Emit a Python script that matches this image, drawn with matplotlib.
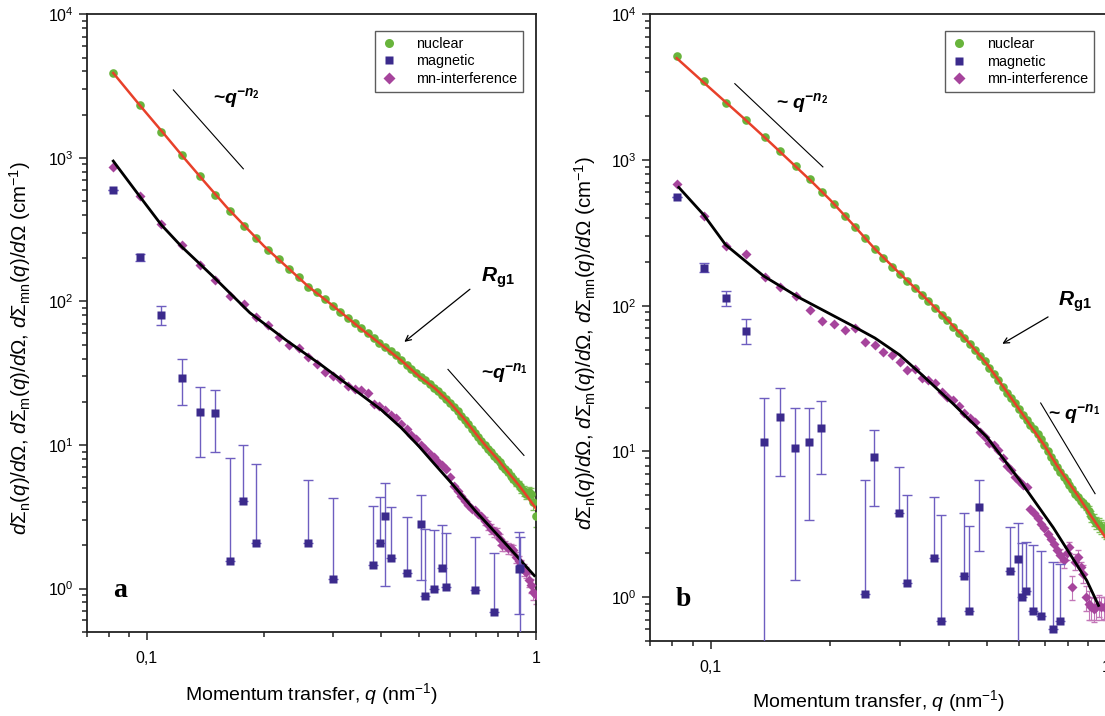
import matplotlib
matplotlib.use('Agg')
import matplotlib.pyplot as plt
from matplotlib.lines import Line2D
from matplotlib.ticker import FixedLocator, FixedFormatter, NullFormatter

plt.rcParams['font.family'] = ['Liberation Sans', 'DejaVu Sans']
plt.rcParams['mathtext.fontset'] = 'custom'
plt.rcParams['mathtext.rm'] = 'Liberation Sans'
plt.rcParams['mathtext.it'] = 'Liberation Sans:italic'
plt.rcParams['mathtext.bf'] = 'Liberation Sans:bold'
plt.rcParams['mathtext.bfit'] = 'Liberation Sans:italic:bold'

# momentum transfer grid (nm^-1), same for both samples
q = [0.082, 0.096, 0.109, 0.123, 0.137, 0.150, 0.164, 0.178, 0.191, 0.205,
     0.219, 0.232, 0.246, 0.260, 0.273, 0.287, 0.301, 0.314, 0.328, 0.342,
     0.355, 0.369, 0.383, 0.396, 0.410, 0.424, 0.437, 0.451, 0.465, 0.478,
     0.492, 0.506, 0.519, 0.533, 0.547, 0.560, 0.574, 0.588, 0.601, 0.615,
     0.629, 0.642, 0.656, 0.670, 0.683, 0.697, 0.711, 0.724, 0.738, 0.752,
     0.765, 0.779, 0.793, 0.806, 0.820, 0.834, 0.847, 0.861, 0.875, 0.888,
     0.902, 0.916, 0.929, 0.943, 0.957, 0.970, 0.984, 0.998]

# ---- sample a ----
nuc_a = [3930, 2330, 1520, 1040, 746, 553, 426, 337, 276, 229,
         196, 167, 148, 126, 116, 104, 92.9, 84.5, 76.4, 70.5,
         65.0, 60.0, 55.3, 51.1, 48.2, 44.8, 42.2, 38.9, 36.3, 33.9,
         31.6, 29.9, 28.2, 26.6, 25.1, 23.7, 22.4, 20.9, 19.7, 18.4,
         17.2, 16.0, 15.0, 14.0, 13.0, 12.2, 11.4, 10.7, 10.0, 9.44,
         8.91, 8.41, 7.94, 7.59, 7.16, 6.76, 6.46, 6.10, 5.82, 5.56,
         5.25, 5.01, 4.79, 4.57, 4.68, 4.57, 3.98, 3.20]
nuc_a_err_tail = [0.3, 0.3, 0.3, 0.35, 0.35, 0.35, 0.4, 0.4, 0.4, 0.45, 0.45, 0.5]
int_a = [865, 545, 347, 246, 179, 141, 109, 96.4, 78.5, 68.4,
         56.5, 49.9, 47.1, 41.0, 36.7, 32.2, 30.4, 28.9, 25.9, 24.6,
         24.0, 23.2, 19.3, 18.6, 17.4, 16.2, 15.5, 14.1, 12.9, 11.7,
         11.0, 10.0, 9.3, 8.7, 8.3, 7.6, 7.2, 6.8, 6.0, 5.2,
         4.8, 4.4, 4.1, 3.8, 3.6, 3.5, 3.3, 3.2, 2.95, 2.75,
         2.6, 2.5, 2.45, 2.2, 2.0, 2.0, 1.9, 1.9, 1.85, 1.65,
         1.55, 1.45, 1.35, 1.3, 1.15, 1.05, 0.95, 0.9]
int_a_err_tail = [0.2, 0.2, 0.2, 0.2, 0.2, 0.2, 0.18, 0.16, 0.16, 0.15,
                  0.15, 0.15, 0.14, 0.13, 0.12, 0.12, 0.12, 0.12, 0.12, 0.12]
fit_nuc_a_q = [0.082, 0.096, 0.11, 0.125, 0.14, 0.16, 0.18, 0.2, 0.23, 0.26, 0.3, 0.35,
               0.4, 0.45, 0.5, 0.55, 0.6, 0.65, 0.7, 0.75, 0.8, 0.85, 0.9, 0.95, 1.0]
fit_nuc_a = [3900, 2320, 1500, 990, 692, 457, 327, 243, 172, 127, 93.8, 66.5,
             50.1, 38.9, 30.2, 24.8, 19.8, 15.5, 12.0, 9.55, 7.85, 6.38, 5.31, 4.37, 3.60]
fit_int_a_q = [0.082, 0.096, 0.109, 0.123, 0.137, 0.150, 0.184, 0.228, 0.281, 0.347,
               0.40, 0.45, 0.50, 0.55, 0.60, 0.70, 0.80, 0.90, 0.99]
fit_int_a = [950, 537, 341, 240, 182, 144, 83.3, 53.7, 36.0, 23.5,
             17.6, 13.2, 9.8, 7.3, 5.6, 3.45, 2.33, 1.64, 1.23]
mag_a_q = [0.082, 0.096, 0.109, 0.123, 0.137, 0.150, 0.164, 0.177, 0.191, 0.260,
           0.301, 0.382, 0.397, 0.410, 0.425, 0.466, 0.506, 0.520, 0.548, 0.574,
           0.588, 0.697, 0.778, 0.902, 0.910]
mag_a = [600, 203, 80, 29.3, 17.1, 16.6, 1.56, 4.07, 2.07, 2.09,
         1.17, 1.45, 2.09, 3.2, 1.62, 1.29, 2.83, 0.89, 1.0, 1.38,
         1.03, 0.97, 0.69, 1.36, 1.38]
mag_a_lo = [600, 190, 69, 18.9, 8.3, 9.0, 1.56, 4.07, 2.07, 2.09,
            1.17, 1.45, 2.09, 1.04, 1.62, 1.29, 1.15, 0.89, 1.0, 1.38,
            1.03, 0.97, 0.69, 0.66, 0.3]
mag_a_hi = [600, 215, 93, 39.5, 25.5, 24.0, 8.15, 9.93, 7.4, 5.7,
            4.3, 3.76, 4.36, 5.4, 3.7, 3.17, 4.5, 2.58, 2.55, 2.77,
            2.44, 2.28, 1.78, 2.49, 2.3]

# ---- sample b ----
nuc_b = [5150, 3460, 2460, 1870, 1440, 1150, 910, 740, 603, 500,
         412, 345, 293, 245, 214, 185, 166, 148, 133, 119,
         107, 96, 87, 80, 72, 65, 60, 55, 49.5, 45.5,
         41.5, 37.5, 34, 30.8, 27.8, 25.2, 23.3, 21.4, 19.6, 17.9,
         16.5, 15.3, 14.2, 13.1, 12.1, 11.0, 10.0, 9.1, 8.4, 7.8,
         7.2, 6.7, 6.3, 5.9, 5.5, 5.1, 4.85, 4.6, 4.4, 4.2,
         3.9, 3.6, 3.4, 3.25, 3.15, 3.05, 2.95, 2.85]
nuc_b_err_tail = [0.25, 0.25, 0.3, 0.3, 0.3, 0.3, 0.35, 0.35, 0.35, 0.35]
int_b = [681, 414, 257, 227, 158, 135, 116, 93, 78, 75,
         68, 70, 56, 53.5, 48.5, 46, 41, 36.5, 37, 32,
         31, 29.5, 25.5, 23.5, 22.4, 20.5, 18.5, 17, 15.9, 13.5,
         12.6, 11.5, 11.0, 10.3, 9.0, 8.0, 7.5, 6.7, 6.3, 5.9,
         5.7, 4.05, 3.8, 3.5, 3.2, 3.0, 2.7, 2.5, 2.3, 2.1,
         1.95, 1.79, 2.0, 2.2, 1.17, 1.75, 1.88, 1.6, 1.45, 1.0,
         0.9, 0.85, 0.83, 0.85, 0.88, 0.85, 0.86, 0.85]
int_b_err_tail = [0.2, 0.2, 0.2, 0.2, 0.22, 0.22, 0.22, 0.15, 0.2, 0.2,
                  0.2, 0.15, 0.15, 0.15, 0.15, 0.15, 0.15, 0.15]
fit_nuc_b_q = [0.082, 0.1, 0.12, 0.14, 0.16, 0.18, 0.2, 0.23, 0.26, 0.3, 0.35, 0.4,
               0.45, 0.5, 0.55, 0.6, 0.65, 0.7, 0.75, 0.8, 0.85, 0.9, 0.95, 1.0]
fit_nuc_b = [5000, 3080, 1980, 1350, 960, 710, 535, 355, 245, 167, 112, 78,
             55.5, 39.5, 27.5, 19.7, 14.4, 10.8, 8.0, 6.2, 4.9, 3.85, 3.1, 2.5]
fit_int_b_q = [0.083, 0.096, 0.109, 0.123, 0.136, 0.167, 0.20, 0.23, 0.26, 0.30,
               0.338, 0.41, 0.498, 0.605, 0.734, 0.892, 0.955]
fit_int_b = [649, 420, 262, 200, 160, 114, 88, 72, 60, 46,
             34.5, 21.2, 12.6, 6.3, 3.0, 1.30, 0.877]
mag_b_q = [0.082, 0.096, 0.109, 0.123, 0.136, 0.150, 0.163, 0.177, 0.190, 0.245,
           0.259, 0.299, 0.313, 0.366, 0.382, 0.436, 0.450, 0.476, 0.570, 0.597,
           0.613, 0.627, 0.653, 0.682, 0.734, 0.763]
mag_b = [561, 183, 113, 67.4, 11.6, 17.2, 10.6, 11.6, 14.5, 1.05,
         9.16, 3.78, 1.25, 1.87, 0.69, 1.39, 0.80, 4.15, 1.51, 1.82,
         1.0, 1.10, 0.81, 0.745, 0.60, 0.684]
mag_b_lo = [561, 170, 99, 54.7, 0.3, 6.75, 1.32, 3.4, 6.96, 1.05,
            4.2, 3.78, 1.25, 1.87, 0.69, 1.39, 0.80, 2.06, 1.51, 0.3,
            1.0, 1.10, 0.81, 0.745, 0.60, 0.684]
mag_b_hi = [561, 198, 127, 81, 23.3, 27.4, 20.0, 20.0, 22.1, 6.4,
            14.0, 7.8, 5.05, 4.86, 3.64, 3.78, 3.07, 6.33, 3.03, 3.22,
            2.35, 2.4, 2.29, 2.06, 1.74, 1.7]

# slope guides, arrows and labels (q, intensity)
guide_a = dict(n2=([0.117, 0.177], [2973, 839]), n1=([0.594, 0.931], [33.6, 8.46]),
               arrow=((0.453, 50.8), (0.685, 125)),
               n2_txt=(0.170, 2617), rg_txt=(0.799, 146), n1_txt=(0.832, 31.5))
guide_b = dict(n2=([0.115, 0.192], [3343, 897]), n1=([0.682, 0.936], [21.5, 5.13]),
               arrow=((0.538, 53.6), (0.722, 85.7)),
               n2_txt=(0.170, 2455), rg_txt=(0.833, 106), n1_txt=(0.828, 18.1))

GREEN = '#68b43c'
GREEN_ERR = '#80c25a'
MAG = '#3b2a8c'
MAG_ERR = '#6e5ec0'
INT = '#a6449c'
INT_ERR = '#c377b8'
RED = '#e8402a'


def draw_panel(ax, nuc, nuc_err, inter, inter_err, fnq, fn, fiq, fi,
               mq, m, mlo, mhi, g, letter, sp):
    n = len(q)
    # nuclear
    ax.errorbar(q[n - len(nuc_err):], nuc[n - len(nuc_err):], yerr=nuc_err, fmt='none',
                ecolor=GREEN_ERR, elinewidth=0.8, capsize=2.5, zorder=2)
    ax.plot(q, nuc, 'o', color=GREEN, ms=6.2, mec='none', zorder=3)
    ax.plot(fnq, fn, '-', color=RED, lw=1.8, zorder=4)
    # interference
    ax.errorbar(q[n - len(inter_err):], inter[n - len(inter_err):], yerr=inter_err, fmt='none',
                ecolor=INT_ERR, elinewidth=0.8, capsize=2.5, zorder=2)
    ax.plot(q, inter, 'D', color=INT, ms=5.6, mec='none', zorder=3)
    ax.plot(fiq, fi, '-', color='black', lw=2.0, zorder=4)
    # magnetic
    lo = [v - l for v, l in zip(m, mlo)]
    hi = [h - v for v, h in zip(m, mhi)]
    ax.errorbar(mq, m, yerr=[lo, hi], fmt='none', ecolor=MAG_ERR, elinewidth=1.0,
                capsize=3.5, capthick=1.0, zorder=5)
    ax.plot(mq, m, 's', color=MAG, ms=5.5, mec='none', zorder=6)

    # guides
    ax.plot(g['n2'][0], g['n2'][1], '-', color='black', lw=0.8)
    ax.plot(g['n1'][0], g['n1'][1], '-', color='black', lw=0.8)
    ax.annotate('', xy=g['arrow'][0], xytext=g['arrow'][1],
                arrowprops=dict(arrowstyle='->', color='black', lw=0.9))
    ax.text(*g['n2_txt'], '~' + sp + r'$\mathbfit{q}^{\mathbfit{-n}_{\mathbf{2}}}$',
            fontsize=14, fontweight='bold', ha='center', va='center')
    ax.text(*g['n1_txt'], '~' + sp + r'$\mathbfit{q}^{\mathbfit{-n}_{\mathbf{1}}}$',
            fontsize=14, fontweight='bold', ha='center', va='center')
    ax.text(*g['rg_txt'], r'$\mathbfit{R}_{\mathbf{g1}}$', fontsize=15,
            ha='center', va='center')
    ax.text(0.075, 0.066, letter, transform=ax.transAxes, fontsize=20,
            fontweight='bold', family='Liberation Serif', ha='center', va='center')

    ax.set_xscale('log')
    ax.set_yscale('log')
    ax.set_xlim(0.07, 1.0)
    ax.set_ylim(0.5, 1e4)
    ax.xaxis.set_major_locator(FixedLocator([0.1, 1.0]))
    ax.xaxis.set_major_formatter(FixedFormatter(['0,1', '1']))
    ax.xaxis.set_minor_locator(FixedLocator([0.07, 0.08, 0.09, 0.2, 0.3, 0.4, 0.5,
                                             0.6, 0.7, 0.8, 0.9]))
    ax.xaxis.set_minor_formatter(NullFormatter())
    ax.yaxis.set_major_locator(FixedLocator([1, 10, 100, 1000, 10000]))
    ax.yaxis.set_major_formatter(FixedFormatter([r'$10^{0}$', r'$10^{1}$', r'$10^{2}$',
                                                 r'$10^{3}$', r'$10^{4}$']))
    ax.yaxis.set_minor_locator(FixedLocator([k * d for d in [0.1, 1, 10, 100, 1000]
                                             for k in range(2, 10)]))
    ax.yaxis.set_minor_formatter(NullFormatter())
    ax.tick_params(which='both', direction='out', top=False, right=False,
                   labelsize=11.5, width=1.1, color='#222222')
    ax.tick_params(which='major', length=6)
    ax.tick_params(which='minor', length=3.8)
    ax.tick_params(axis='x', which='major', pad=8)
    for s in ax.spines.values():
        s.set_linewidth(1.3)
        s.set_color('#222222')

    ax.set_xlabel(r'Momentum transfer, $q$ (nm$^{-1}$)', fontsize=14)
    ax.set_ylabel(r'$d\Sigma_{\mathrm{n}}(q)/d\Omega$, $d\Sigma_{\mathrm{m}}(q)/d\Omega$, '
                  r'$d\Sigma_{\mathrm{mn}}(q)/d\Omega$ (cm$^{-1}$)', fontsize=14.8)

    handles = [Line2D([], [], ls='none', marker='o', color=GREEN, mec='none', ms=6.5),
               Line2D([], [], ls='none', marker='s', color=MAG, mec='none', ms=5.5),
               Line2D([], [], ls='none', marker='D', color=INT, mec='none', ms=5.8)]
    leg = ax.legend(handles, ['nuclear', 'magnetic', 'mn-interference'],
                    loc='upper right', bbox_to_anchor=(0.972, 0.973), fontsize=10.4,
                    frameon=True, fancybox=False, borderpad=0.4, labelspacing=0.25,
                    handletextpad=1.3, handlelength=1.2, borderaxespad=0)
    leg.get_frame().set_edgecolor('#333333')
    leg.get_frame().set_linewidth(1.0)


fig = plt.figure(figsize=(11.05, 7.16), dpi=100)
ax_a = fig.add_axes([0.0783, 0.1177, 0.4068, 0.8623])
ax_b = fig.add_axes([0.5878, 0.1047, 0.4135, 0.8753])

draw_panel(ax_a, nuc_a, nuc_a_err_tail, int_a, int_a_err_tail, fit_nuc_a_q, fit_nuc_a,
           fit_int_a_q, fit_int_a, mag_a_q, mag_a, mag_a_lo, mag_a_hi, guide_a, 'a', '')
draw_panel(ax_b, nuc_b, nuc_b_err_tail, int_b, int_b_err_tail, fit_nuc_b_q, fit_nuc_b,
           fit_int_b_q, fit_int_b, mag_b_q, mag_b, mag_b_lo, mag_b_hi, guide_b, 'b', ' ')

ax_a.yaxis.set_label_coords(-0.119, 0.46)
ax_a.xaxis.set_label_coords(0.5, -0.080)
ax_b.yaxis.set_label_coords(-0.113, 0.476)
ax_b.xaxis.set_label_coords(0.502, -0.075)

fig.savefig('out.png', dpi=100)
